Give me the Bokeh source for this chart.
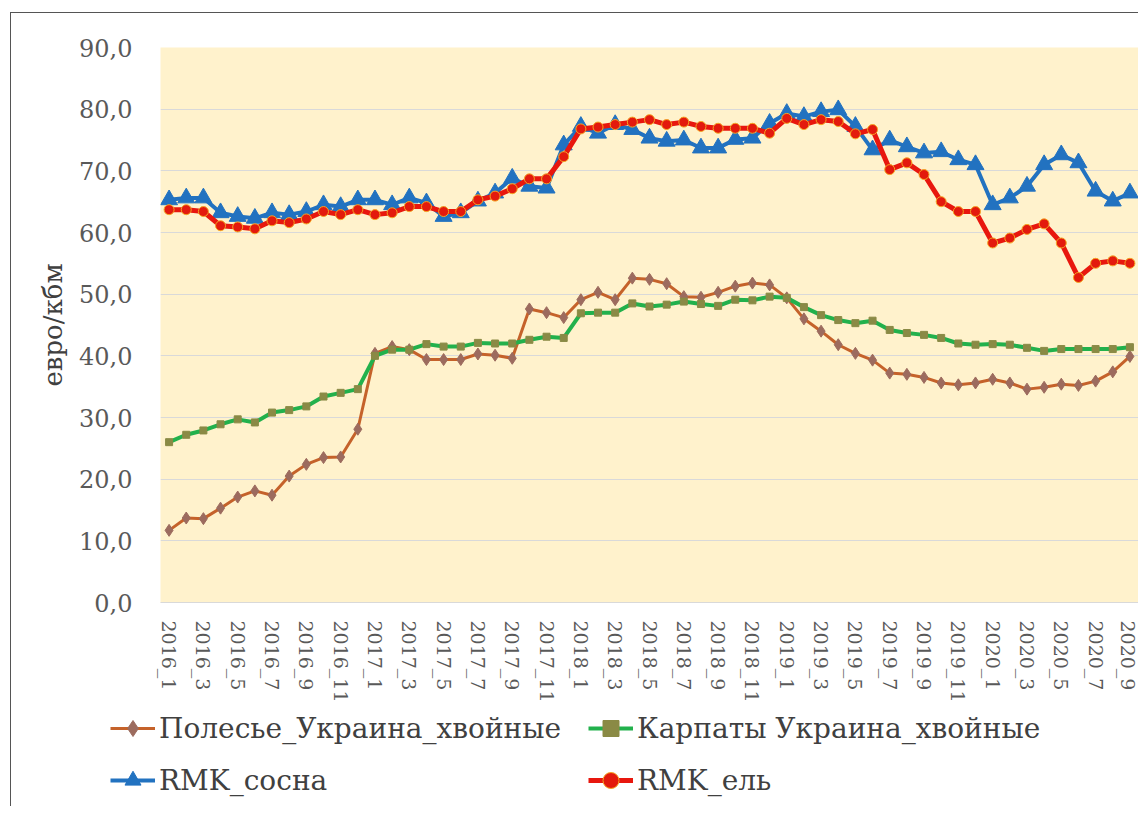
from bokeh.plotting import figure
from bokeh.layouts import column
from bokeh.models import FixedTicker, Legend, LegendItem, Range1d
from bokeh.embed import file_html
from bokeh.resources import INLINE

months = [
    "2016_1", "2016_2", "2016_3", "2016_4", "2016_5", "2016_6", "2016_7", "2016_8", "2016_9", "2016_10", "2016_11", "2016_12",
    "2017_1", "2017_2", "2017_3", "2017_4", "2017_5", "2017_6", "2017_7", "2017_8", "2017_9", "2017_10", "2017_11", "2017_12",
    "2018_1", "2018_2", "2018_3", "2018_4", "2018_5", "2018_6", "2018_7", "2018_8", "2018_9", "2018_10", "2018_11", "2018_12",
    "2019_1", "2019_2", "2019_3", "2019_4", "2019_5", "2019_6", "2019_7", "2019_8", "2019_9", "2019_10", "2019_11", "2019_12",
    "2020_1", "2020_2", "2020_3", "2020_4", "2020_5", "2020_6", "2020_7", "2020_8", "2020_9",
]

polesye = [11.7, 13.7, 13.6, 15.3, 17.1, 18.1, 17.4, 20.5, 22.4, 23.5, 23.6, 28.1,
           40.4, 41.5, 41.0, 39.4, 39.4, 39.4, 40.3, 40.1, 39.6, 47.6, 47.0, 46.2,
           49.1, 50.3, 49.1, 52.6, 52.4, 51.7, 49.6, 49.5, 50.3, 51.3, 51.8, 51.5,
           49.4, 46.0, 44.0, 41.8, 40.4, 39.3, 37.2, 37.0, 36.5, 35.6, 35.3, 35.6,
           36.2, 35.6, 34.6, 34.9, 35.4, 35.2, 35.9, 37.4, 39.9]

karpaty = [26.0, 27.2, 27.9, 28.9, 29.7, 29.2, 30.8, 31.2, 31.8, 33.4, 34.0, 34.6,
           40.0, 41.0, 41.0, 41.9, 41.5, 41.5, 42.1, 42.0, 42.0, 42.6, 43.1, 42.9,
           46.9, 47.0, 47.0, 48.5, 48.0, 48.3, 48.8, 48.4, 48.1, 49.1, 49.0, 49.6,
           49.4, 47.9, 46.6, 45.8, 45.3, 45.7, 44.2, 43.7, 43.4, 42.9, 42.0, 41.8,
           41.9, 41.8, 41.3, 40.8, 41.1, 41.1, 41.1, 41.1, 41.4]

rmk_sosna = [65.3, 65.6, 65.6, 63.2, 62.6, 62.3, 63.2, 62.9, 63.4, 64.5, 64.2, 65.3,
             65.3, 64.5, 65.6, 64.8, 62.6, 63.2, 65.1, 66.4, 68.8, 67.5, 67.2, 74.2,
             77.2, 76.1, 77.5, 76.7, 75.3, 74.8, 75.0, 73.7, 73.7, 75.1, 75.3, 77.7,
             79.3, 78.8, 79.6, 79.9, 77.2, 73.4, 75.0, 73.9, 72.9, 73.1, 71.8, 71.0,
             64.5, 65.6, 67.5, 71.0, 72.6, 71.3, 66.7, 65.1, 66.4]

rmk_el = [63.7, 63.7, 63.4, 61.1, 60.9, 60.6, 61.9, 61.6, 62.2, 63.4, 62.9, 63.7,
          62.9, 63.2, 64.2, 64.2, 63.4, 63.4, 65.3, 65.9, 67.1, 68.7, 68.7, 72.3,
          76.8, 77.1, 77.5, 77.9, 78.3, 77.5, 77.9, 77.2, 76.9, 76.9, 76.9, 76.1,
          78.5, 77.5, 78.3, 78.0, 76.0, 76.7, 70.2, 71.3, 69.4, 65.0, 63.4, 63.4,
          58.3, 59.1, 60.5, 61.4, 58.3, 52.7, 55.0, 55.4, 55.0]

series_names = ["Полесье_Украина_хвойные", "Карпаты Украина_хвойные", "RMK_сосна", "RMK_ель"]
y_ticks = [0, 10, 20, 30, 40, 50, 60, 70, 80, 90]
y_label = "евро/кбм"

x = list(range(len(months)))
FONT = "DejaVu Serif"

styles = [
    dict(line_color="#C5622A", line_width=3, marker="diamond", size=12, fill="#9C6B5E", mline="#9C6B5E", mlw=1),
    dict(line_color="#22B14C", line_width=4, marker="square", size=7, fill="#8A8A45", mline="#8A8A45", mlw=1),
    dict(line_color="#2272C0", line_width=4, marker="triangle", size=17, fill="#2272C0", mline="#2272C0", mlw=1),
    dict(line_color="#E8170E", line_width=5, marker="circle", size=10, fill="#E31A0D", mline="#F5A623", mlw=1),
]
values = [polesye, karpaty, rmk_sosna, rmk_el]

p = figure(width=1127, height=692,
           x_range=Range1d(-0.5, len(months) - 0.5), y_range=Range1d(0, 90),
           output_backend="svg", toolbar_location=None,
           min_border_left=149, min_border_right=0, min_border_top=34, min_border_bottom=102,
           background_fill_color="#FFF2CC", border_fill_color="white",
           outline_line_color=None)
p.frame_align = False

# x axis
p.xaxis.ticker = FixedTicker(ticks=x[::2])
p.xaxis.major_label_overrides = {i: months[i] for i in x[::2]}
p.xaxis.major_label_orientation = "vertical"
p.xaxis.major_tick_line_color = None
p.xaxis.minor_tick_line_color = None
p.xaxis.major_tick_out = 0
p.xaxis.axis_line_color = "#d9d9d9"
p.xaxis.major_label_standoff = 18
p.xaxis.major_label_text_font = FONT
p.xaxis.major_label_text_font_size = "19px"
p.xaxis.major_label_text_color = "#595959"
p.xgrid.grid_line_color = None

# y axis
p.yaxis.ticker = FixedTicker(ticks=y_ticks)
p.yaxis.major_label_overrides = {v: f"{v},0" for v in y_ticks}
p.yaxis.major_tick_line_color = None
p.yaxis.minor_tick_line_color = None
p.yaxis.major_tick_out = 0
p.yaxis.axis_line_color = None
p.yaxis.major_label_standoff = 28
p.yaxis.major_label_text_font = FONT
p.yaxis.major_label_text_font_size = "24px"
p.yaxis.major_label_text_color = "#595959"
p.yaxis.axis_label = y_label
p.yaxis.axis_label_text_font = FONT
p.yaxis.axis_label_text_font_size = "26px"
p.yaxis.axis_label_text_font_style = "normal"
p.yaxis.axis_label_text_color = "#404040"
p.yaxis.axis_label_standoff = 8
p.ygrid.grid_line_color = "#d9d9d9"
p.ygrid.grid_line_width = 1

for vals, st in zip(values, styles):
    p.line(x, vals, line_color=st["line_color"], line_width=st["line_width"])
    p.scatter(x, vals, marker=st["marker"], size=st["size"], fill_color=st["fill"],
              line_color=st["mline"], line_width=st["mlw"])

# legend figure (below the chart); its renderers hold points outside its visible range
p2 = figure(width=1127, height=101, x_range=Range1d(0, 1), y_range=Range1d(0, 1),
            output_backend="svg", toolbar_location=None,
            x_axis_type=None, y_axis_type=None,
            min_border_left=0, min_border_right=0, min_border_top=0, min_border_bottom=0,
            background_fill_color="white", border_fill_color="white", outline_line_color=None)
p2.frame_align = False
p2.xgrid.grid_line_color = None
p2.ygrid.grid_line_color = None

renderers = []
for st in styles:
    lr = p2.line([-5, -4], [-5, -4], line_color=st["line_color"], line_width=st["line_width"])
    mr = p2.scatter([-5], [-5], marker=st["marker"], size=st["size"], fill_color=st["fill"],
                    line_color=st["mline"], line_width=st["mlw"])
    renderers.append([lr, mr])

# column-major fill: first column gets items 0,1; second column items 2,3
order = [0, 2, 1, 3]
items = [LegendItem(label=series_names[i], renderers=renderers[i]) for i in order]

legend = Legend(items=items, ncols=2, location=(99, 6),
                glyph_width=45, glyph_height=40, label_height=40, label_width=417,
                label_standoff=4, spacing=12, padding=0, margin=0,
                label_text_font=FONT, label_text_font_size="28px",
                label_text_color="#404040",
                background_fill_alpha=0, border_line_color=None)
p2.add_layout(legend, "center")

layout = column(p, p2, spacing=0)
layout.styles = {"margin-left": "10px", "margin-top": "12px",
                 "border-left": "1px solid #555555", "border-top": "1px solid #555555"}

open("out.html", "w").write(file_html(layout, INLINE))
